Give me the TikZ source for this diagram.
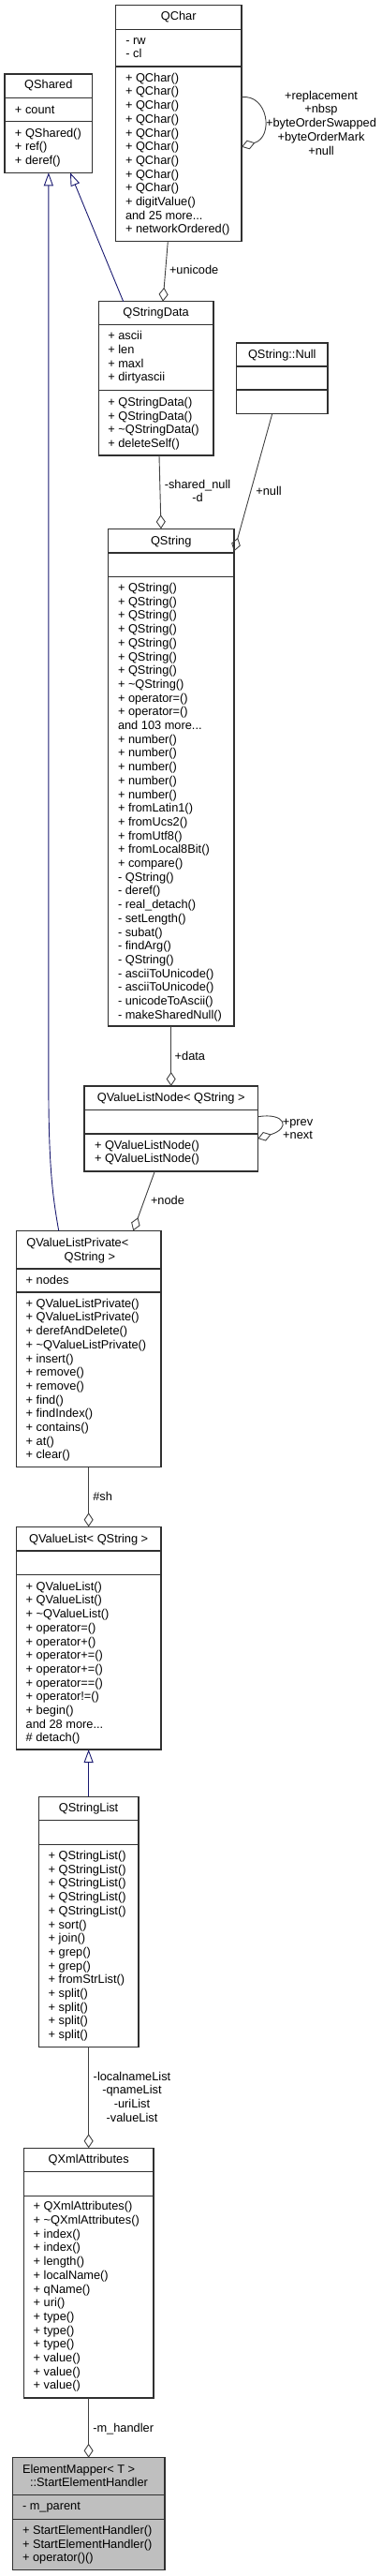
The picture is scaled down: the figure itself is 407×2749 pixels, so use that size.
\documentclass[tikz,border=0pt]{standalone}
\usepackage{fontspec}
\setmainfont{Liberation Sans}
\usetikzlibrary{arrows.meta,calc,fit}
\definecolor{boxc}{HTML}{303030}
\definecolor{edgec}{HTML}{404040}
\definecolor{inhc}{HTML}{191970}
\definecolor{hilite}{HTML}{BFBFBF}
\newcommand\mlines[1]{\begin{tabular}[t]{@{}l@{}}#1\end{tabular}}
\newcommand\clines[1]{\begin{tabular}[t]{@{}c@{}}#1\end{tabular}}
\newcommand\tl{\textasciitilde}
\tikzset{
  clsbox/.style={draw=boxc, line width=1.1pt, inner sep=0pt, outer sep=0pt},
  sepline/.style={draw=boxc, line width=1.1pt},
  txt/.style={inner sep=0pt, outer sep=0pt, text=black},
  agg/.style={draw=edgec, line width=0.9pt, -{Diamond[open, length=15pt, width=10pt, line width=0.9pt]}},
  inh/.style={draw=inhc, line width=0.9pt, -{Triangle[open, length=14pt, width=10pt, line width=0.9pt]}},
}
\begin{document}
\begin{tikzpicture}[x=1pt,y=-1pt,font=\fontsize{12.8}{14.7}\selectfont]
\useasboundingbox (0,0) rectangle (407,2749);

% ---------- QChar
\node[clsbox, fit={(123.3,5.7) (258,257.7)}] (qchar) {};
\draw[sepline] (123.3,31.3) -- (258,31.3) (123.3,71) -- (258,71);
\node[txt, anchor=base] (qchar-t) at (190.7,21.5) {QChar};
\node[txt, anchor=base west] (qchar-a) at (134.3,47.2) {\mlines{- rw\\- cl}};
\node[txt, anchor=base west] (qchar-m) at (134,87.2) {\mlines{+ QChar()\\+ QChar()\\+ QChar()\\+ QChar()\\+ QChar()\\+ QChar()\\+ QChar()\\+ QChar()\\+ QChar()\\+ digitValue()\\and 25 more...\\+ networkOrdered()}};

% ---------- QShared
\node[clsbox, fit={(5,79) (98.7,184.3)}] (qshared) {};
\draw[sepline] (5,104.3) -- (98.7,104.3) (5,129.7) -- (98.7,129.7);
\node[txt, anchor=base] (qshared-t) at (51.85,94.5) {QShared};
\node[txt, anchor=base west] (qshared-a) at (16,121.2) {\mlines{+ count}};
\node[txt, anchor=base west] (qshared-m) at (16,146.2) {\mlines{+ QShared()\\+ ref()\\+ deref()}};

% ---------- QStringData
\node[clsbox, fit={(105.3,321.7) (228,486)}] (qsd) {};
\draw[sepline] (105.3,346.7) -- (228,346.7) (105.3,416.7) -- (228,416.7);
\node[txt, anchor=base] (qsd-t) at (166.6,337.8) {QStringData};
\node[txt, anchor=base west] (qsd-a) at (115.3,362.8) {\mlines{+ ascii\\+ len\\+ maxl\\+ dirtyascii}};
\node[txt, anchor=base west] (qsd-m) at (115.3,433.5) {\mlines{+ QStringData()\\+ QStringData()\\+ \tl QStringData()\\+ deleteSelf()}};

% ---------- QString::Null
\node[clsbox, fit={(252.7,366) (350,441.7)}] (qnull) {};
\draw[sepline] (252.7,391) -- (350,391) (252.7,416) -- (350,416);
\node[txt, anchor=base] (qnull-t) at (301.3,382.2) {QString::Null};

% ---------- QString
\node[clsbox, fit={(115.3,564.3) (250,1095)}] (qstr) {};
\draw[sepline] (115.3,590) -- (250,590) (115.3,615.3) -- (250,615.3);
\node[txt, anchor=base] (qstr-t) at (182.7,581.2) {QString};
\node[txt, anchor=base west] (qstr-m) at (126,631.5) {\mlines{+ QString()\\+ QString()\\+ QString()\\+ QString()\\+ QString()\\+ QString()\\+ QString()\\+ \tl QString()\\+ operator=()\\+ operator=()\\and 103 more...\\+ number()\\+ number()\\+ number()\\+ number()\\+ number()\\+ fromLatin1()\\+ fromUcs2()\\+ fromUtf8()\\+ fromLocal8Bit()\\+ compare()\\- QString()\\- deref()\\- real\_detach()\\- setLength()\\- subat()\\- findArg()\\- QString()\\- asciiToUnicode()\\- asciiToUnicode()\\- unicodeToAscii()\\- makeSharedNull()}};

% ---------- QValueListNode< QString >
\node[clsbox, fit={(90,1159) (275.3,1250)}] (qvln) {};
\draw[sepline] (90,1184.3) -- (275.3,1184.3) (90,1210) -- (275.3,1210);
\node[txt, anchor=base] (qvln-t) at (182.7,1175.2) {QValueListNode< QString >};
\node[txt, anchor=base west] (qvln-m) at (101,1226.2) {\mlines{+ QValueListNode()\\+ QValueListNode()}};

% ---------- QValueListPrivate< QString >
\node[clsbox, fit={(17.3,1313.3) (172,1565.7)}] (qvlp) {};
\draw[sepline] (17.3,1354) -- (172,1354) (17.3,1379) -- (172,1379);
\node[txt, anchor=base west] (qvlp-t1) at (28.3,1330.2) {QValueListPrivate<};
\node[txt, anchor=base] (qvlp-t2) at (95.8,1345.2) {QString >};
\node[txt, anchor=base west] (qvlp-a) at (27.7,1370.2) {\mlines{+ nodes}};
\node[txt, anchor=base west] (qvlp-m) at (27.7,1395.2) {\mlines{+ QValueListPrivate()\\+ QValueListPrivate()\\+ derefAndDelete()\\+ \tl QValueListPrivate()\\+ insert()\\+ remove()\\+ remove()\\+ find()\\+ findIndex()\\+ contains()\\+ at()\\+ clear()}};

% ---------- QValueList< QString >
\node[clsbox, fit={(17.3,1629.3) (172,1867)}] (qvl) {};
\draw[sepline] (17.3,1655) -- (172,1655) (17.3,1680.7) -- (172,1680.7);
\node[txt, anchor=base] (qvl-t) at (94.65,1646.2) {QValueList< QString >};
\node[txt, anchor=base west] (qvl-m) at (27.7,1697.2) {\mlines{+ QValueList()\\+ QValueList()\\+ \tl QValueList()\\+ operator=()\\+ operator+()\\+ operator+=()\\+ operator+=()\\+ operator==()\\+ operator!=()\\+ begin()\\and 28 more...\\\# detach()}};

% ---------- QStringList
\node[clsbox, fit={(41.3,1917.3) (148,2184.3)}] (qsl) {};
\draw[sepline] (41.3,1942.7) -- (148,1942.7) (41.3,1968.7) -- (148,1968.7);
\node[txt, anchor=base] (qsl-t) at (94.65,1933.8) {QStringList};
\node[txt, anchor=base west] (qsl-m) at (51.7,1984.5) {\mlines{+ QStringList()\\+ QStringList()\\+ QStringList()\\+ QStringList()\\+ QStringList()\\+ sort()\\+ join()\\+ grep()\\+ grep()\\+ fromStrList()\\+ split()\\+ split()\\+ split()\\+ split()}};

% ---------- QXmlAttributes
\node[clsbox, fit={(25.3,2292.3) (164,2559)}] (qxml) {};
\draw[sepline] (25.3,2317.7) -- (164,2317.7) (25.3,2343.3) -- (164,2343.3);
\node[txt, anchor=base] (qxml-t) at (94.65,2308.8) {QXmlAttributes};
\node[txt, anchor=base west] (qxml-m) at (35.7,2358.8) {\mlines{+ QXmlAttributes()\\+ \tl QXmlAttributes()\\+ index()\\+ index()\\+ length()\\+ localName()\\+ qName()\\+ uri()\\+ type()\\+ type()\\+ type()\\+ value()\\+ value()\\+ value()}};

% ---------- ElementMapper< T >::StartElementHandler
\node[clsbox, fill=hilite, fit={(13.3,2622.7) (176,2742.7)}] (emh) {};
\draw[sepline] (13.3,2662.7) -- (176,2662.7) (13.3,2688.3) -- (176,2688.3);
\node[txt, anchor=base west] (emh-t1) at (24,2639.5) {ElementMapper< T >};
\node[txt, anchor=base] (emh-t2) at (95,2653.8) {::StartElementHandler};
\node[txt, anchor=base west] (emh-a) at (24,2678.8) {\mlines{- m\_parent}};
\node[txt, anchor=base west] (emh-m) at (24,2704.5) {\mlines{+ StartElementHandler()\\+ StartElementHandler()\\+ operator()()}};

% ---------- connectors
\coordinate (bendA) at (51.85,1150);
\draw[inh] ($(qvlp.north west)+(45.4,0)$) .. controls (56,1275) and (51.85,1245) .. (bendA) -- (qshared.south);
\draw[inh] ($(qsd.north west)+(26.4,0)$) -- ($(qshared.south west)+(70,0)$);
\draw[inh] (qsl.north) -- (qvl.south);

\draw[agg] ($(qchar.south west)+(56,0)$) -- ($(qsd.north west)+(68.7,0)$);
\draw[agg] ($(qchar.north east)+(0,98)$) .. controls (286,100) and (293,146) .. ($(qchar.north east)+(0,151)$);
\draw[agg] ($(qsd.south west)+(64.7,0)$) -- ($(qstr.north west)+(56.7,0)$);
\draw[agg] ($(qnull.south west)+(38,0)$) -- ($(qstr.north east)+(0,24)$);
\draw[agg] ($(qstr.south west)+(67.4,0)$) -- ($(qvln.north west)+(92.7,0)$);
\draw[agg] ($(qvln.north east)+(0,32.7)$) .. controls (305,1187) and (311,1204) .. ($(qvln.north east)+(0,56)$);
\draw[agg] ($(qvln.south west)+(75.3,0)$) -- ($(qvlp.north west)+(125,0)$);
\draw[agg] (qvlp.south) -- (qvl.north);
\draw[agg] (qsl.south) -- (qxml.north);
\draw[agg] (qxml.south) -- (emh.north);

% ---------- connector labels
\node[txt, anchor=base west] (l-unicode) at (181,292.8) {+unicode};
\node[txt, anchor=base] (l-qchar) at (343,106.2) {\clines{+replacement\\+nbsp\\+byteOrderSwapped\\+byteOrderMark\\+null}};
\node[txt, anchor=base] (l-shared) at (211,521.2) {\clines{-shared\_null\\-d}};
\node[txt, anchor=base west] (l-null) at (273.3,528.8) {+null};
\node[txt, anchor=base west] (l-data) at (186.7,1131.2) {+data};
\node[txt, anchor=base] (l-prevnext) at (318,1201.2) {\clines{+prev\\+next}};
\node[txt, anchor=base west] (l-node) at (161,1285.2) {+node};
\node[txt, anchor=base west] (l-sh) at (99.3,1601.2) {\#sh};
\node[txt, anchor=base] (l-lists) at (141,2220.2) {\clines{-localnameList\\-qnameList\\-uriList\\-valueList}};
\node[txt, anchor=base west] (l-handler) at (99.3,2595.2) {-m\_handler};
\end{tikzpicture}
\end{document}
